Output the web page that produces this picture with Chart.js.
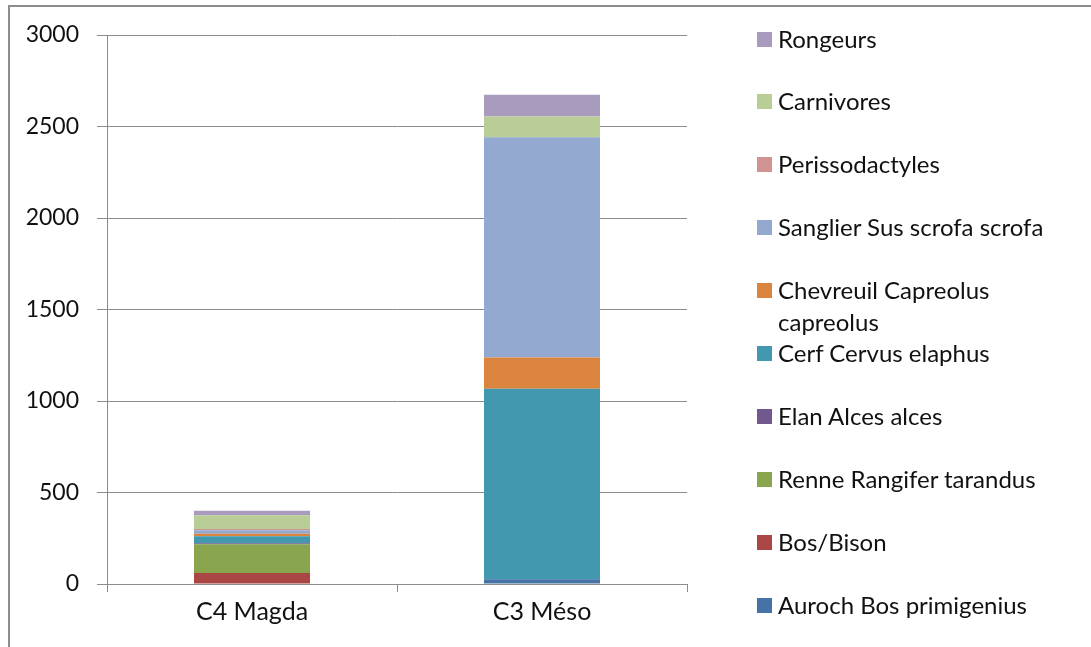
<!DOCTYPE html>
<html>
<head>
<meta charset="utf-8">
<script src="https://cdn.jsdelivr.net/npm/chart.js@4/dist/chart.umd.min.js"></script>
<style>
  html, body { margin: 0; padding: 0; background: #fff; }
  #wrap { position: relative; width: 1091px; height: 647px; overflow: hidden; }
  #frame { position: absolute; left: 8px; top: 5px; width: 1200px; height: 800px;
           border-left: 2px solid #8c8c8c; border-top: 2px solid #8c8c8c; }
  canvas { position: absolute; left: 0; top: 0; }
  #legend { position: absolute; left: 757px; top: 0; font-family: Lato, "Open Sans", sans-serif;
            font-size: 24px; color: #111; }
  .item { position: absolute; left: 0; width: 330px; line-height: 32px; }
  .box { position: absolute; left: 0; top: 9px; width: 15px; height: 15px; }
  .txt { position: absolute; left: 21px; top: 0; width: 290px; }
</style>
</head>
<body>
<div id="wrap">
  <div id="frame"></div>
  <canvas id="c" width="1091" height="647"></canvas>
  <div id="legend"></div>
</div>
<script>
const categories = ['C4 Magda', 'C3 Méso'];
const auroch = [0, 26];
const bosBison = [60, 0];
const renne = [157, 0];
const elan = [6, 0];
const cerf = [38, 1041];
const chevreuil = [13, 171];
const sanglier = [20, 1203];
const perissodactyles = [7, 0];
const carnivores = [75, 113];
const rongeurs = [24, 120];
const yTicks = [0, 500, 1000, 1500, 2000, 2500, 3000];

const seriesNames = ['Auroch Bos primigenius', 'Bos/Bison', 'Renne Rangifer tarandus', 'Elan Alces alces',
  'Cerf Cervus elaphus', 'Chevreuil Capreolus capreolus', 'Sanglier Sus scrofa scrofa',
  'Perissodactyles', 'Carnivores', 'Rongeurs'];
const seriesValues = [auroch, bosBison, renne, elan, cerf, chevreuil, sanglier, perissodactyles, carnivores, rongeurs];
const seriesColors = ['#4572A7', '#AA4643', '#89A54E', '#71588F', '#4198AF', '#DB843D', '#93A9CF',
  '#D19392', '#B9CD96', '#A99BBD'];

const datasets = seriesNames.map((n, i) => ({
  label: n, data: seriesValues[i], backgroundColor: seriesColors[i], borderWidth: 0,
  categoryPercentage: 1.0, barPercentage: 0.4
}));

const fam = 'Lato, "Open Sans", sans-serif';
const gridColor = '#8c8c8c';

const chart = new Chart(document.getElementById('c'), {
  type: 'bar',
  data: { labels: categories, datasets },
  options: {
    responsive: false,
    animation: false,
    devicePixelRatio: 1,
    layout: { padding: { left: 0, right: 404, top: 35, bottom: 0 } },
    plugins: { legend: { display: false }, tooltip: { enabled: false } },
    scales: {
      x: {
        stacked: true,
        grid: { offset: true, drawOnChartArea: false, color: gridColor, tickLength: 8, tickColor: gridColor },
        border: { color: gridColor, width: 1 },
        ticks: { font: { family: fam, size: 25 }, color: '#111', padding: 5 },
        afterFit: s => { s.height = 63; }
      },
      y: {
        stacked: true,
        min: 0, max: 3000,
        afterBuildTicks: s => { s.ticks = yTicks.map(v => ({ value: v })); },
        grid: { color: gridColor, tickLength: 10, tickColor: gridColor },
        border: { color: gridColor, width: 1 },
        ticks: { font: { family: fam, size: 23 }, color: '#111', padding: 18, callback: v => String(v) },
        afterFit: s => { s.width = 107; }
      }
    }
  }
});

// HTML legend built from the chart's datasets (reversed like the stack)
const leg = document.getElementById('legend');
const items = chart.data.datasets.slice().reverse();
items.forEach((ds, i) => {
  const el = document.createElement('div');
  el.className = 'item';
  el.style.top = (38.5 + i * 62.9 - 16) + 'px';
  el.innerHTML = '<span class="box" style="background:' + ds.backgroundColor + '"></span><span class="txt"></span>';
  el.querySelector('.txt').textContent = ds.label;
  leg.appendChild(el);
});
</script>
</body>
</html>
